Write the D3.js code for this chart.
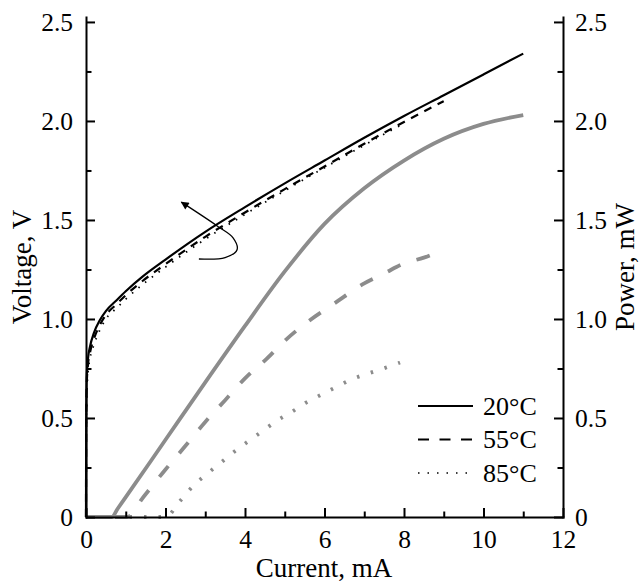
<!DOCTYPE html>
<html>
<head>
<meta charset="utf-8">
<script src="https://cdn.jsdelivr.net/npm/d3@7"></script>
<style>
    body { margin: 0; background: #fff; }
    svg { display: block; font-family: "Liberation Serif", "Times New Roman", serif; }
    .axis line, .axis path { stroke: #000; stroke-width: 2; }
    .title { font-size: 27px; fill: #000; }
    .legend text { font-size: 26px; fill: #000; }
</style>
</head>
<body>
<svg id="chart" width="639" height="583"></svg>
<script>
// Voltage (left axis), current in mA
const currentV20 = [0, 0.005, 0.02, 0.05, 0.1, 0.2, 0.35, 0.5, 0.77, 1.0, 1.43, 2, 3, 4, 5, 6, 7, 8, 9, 10, 11];
const voltage20 = [0, 0.5, 0.72, 0.8, 0.86, 0.93, 0.995, 1.04, 1.095, 1.14, 1.215, 1.3, 1.44, 1.565, 1.685, 1.8, 1.915, 2.025, 2.13, 2.235, 2.34];
const currentV55 = [0, 0.005, 0.02, 0.05, 0.1, 0.2, 0.35, 0.5, 0.77, 1.0, 1.43, 2, 3, 4, 5, 6, 7, 8, 9];
const voltage55 = [0, 0.45, 0.68, 0.77, 0.83, 0.9, 0.97, 1.02, 1.075, 1.12, 1.193, 1.277, 1.415, 1.538, 1.656, 1.77, 1.885, 1.995, 2.1];
const currentV85 = [0, 0.005, 0.02, 0.05, 0.1, 0.2, 0.35, 0.5, 0.77, 1.0, 1.43, 2, 3, 4, 5, 6, 7, 8];
const voltage85 = [0, 0.4, 0.62, 0.73, 0.8, 0.87, 0.945, 1.0, 1.055, 1.1, 1.175, 1.262, 1.403, 1.528, 1.648, 1.764, 1.878, 1.988];

// Optical power (right axis)
const currentP20 = [0, 0.65, 0.8, 1, 2, 3, 4, 5, 6, 7, 8, 9, 10, 11];
const power20 = [0, 0, 0.043, 0.1, 0.39, 0.68, 0.965, 1.24, 1.48, 1.66, 1.8, 1.91, 1.985, 2.03];
const currentP55 = [0, 1.03, 1.44, 2, 2.45, 3, 3.5, 4, 4.55, 5, 5.64, 6.26, 7, 7.5, 8, 8.5, 9];
const power55 = [0, 0, 0.1, 0.24, 0.347, 0.48, 0.59, 0.7, 0.8, 0.89, 0.995, 1.08, 1.18, 1.23, 1.28, 1.31, 1.35];
const currentP85 = [0, 2.0, 2.36, 2.7, 3.04, 3.39, 3.73, 4.1, 4.44, 4.8, 5.17, 5.53, 5.9, 6.31, 6.68, 7.1, 7.48, 7.9];
const power85 = [0, 0, 0.08, 0.158, 0.217, 0.274, 0.33, 0.385, 0.434, 0.486, 0.53, 0.577, 0.616, 0.658, 0.695, 0.725, 0.75, 0.78];

// Ticks
const xMajorTicks = [0, 2, 4, 6, 8, 10, 12];
const xMinorTicks = [1, 3, 5, 7, 9, 11];
const yMajorTicks = [0, 0.5, 1.0, 1.5, 2.0, 2.5];
const yMinorTicks = [0.25, 0.75, 1.25, 1.75, 2.25];

// Legend labels
const legendLabels = ["20°C", "55°C", "85°C"];

// Curved arrow pointing at voltage curves (data units)
const arrowCurrent = [2.84, 3.5, 3.8, 3.7, 3.3, 2.4];
const arrowVoltage = [1.303, 1.31, 1.35, 1.41, 1.47, 1.59];

const svg = d3.select("#chart");
const grey = "#8c8c8c";
const serif = '"Liberation Serif", "Times New Roman", serif';

// Scales (both y axes share 0..2.5)
const x = d3.scaleLinear().domain([0, 12]).range([86, 563]);
const y = d3.scaleLinear().domain([0, 2.525]).range([517, 17]);

function zip(xs, ys) {
    return xs.map(function (v, i) { return [v, ys[i]]; });
}

const line = d3.line()
    .x(function (d) { return x(d[0]); })
    .y(function (d) { return y(d[1]); })
    .curve(d3.curveMonotoneX);

// Power curves (grey)
const powerSeries = [
    { data: zip(currentP20, power20), dash: null },
    { data: zip(currentP55, power55), dash: "14,17" },
    { data: zip(currentP85, power85), dash: "2.5,12" }
];
powerSeries.forEach(function (s) {
    svg.append("path")
        .datum(s.data)
        .attr("d", line)
        .attr("fill", "none")
        .attr("stroke", grey)
        .attr("stroke-width", 3.8)
        .attr("stroke-dasharray", s.dash);
});

// Voltage curves (black)
const voltageSeries = [
    { data: zip(currentV20, voltage20), dash: null, w: 2.2 },
    { data: zip(currentV55, voltage55), dash: "8,7", w: 2.2 },
    { data: zip(currentV85, voltage85), dash: "1.5,7", w: 1.8 }
];
voltageSeries.forEach(function (s) {
    svg.append("path")
        .datum(s.data)
        .attr("d", line)
        .attr("fill", "none")
        .attr("stroke", "#000")
        .attr("stroke-width", s.w)
        .attr("stroke-dasharray", s.dash);
});

// Arrow annotation
svg.append("defs").append("marker")
    .attr("id", "head")
    .attr("viewBox", "0 0 10 10")
    .attr("refX", 9).attr("refY", 5)
    .attr("markerWidth", 11).attr("markerHeight", 8)
    .attr("markerUnits", "userSpaceOnUse")
    .attr("orient", "auto")
    .append("path")
    .attr("d", "M0,0 L10,5 L0,10 Z")
    .attr("fill", "#000");

svg.append("path")
    .datum(zip(arrowCurrent, arrowVoltage))
    .attr("d", d3.line().x(d => x(d[0])).y(d => y(d[1])).curve(d3.curveCatmullRom))
    .attr("fill", "none")
    .attr("stroke", "#000")
    .attr("stroke-width", 1.3)
    .attr("marker-end", "url(#head)");

// Axes
const yFormat = function (d) { return d === 0 ? "0" : d3.format(".1f")(d); };

function styleAxis(g) {
    g.attr("class", "axis");
    g.selectAll("text")
        .style("font-family", serif)
        .style("font-size", "25.5px")
        .style("fill", "#000");
}

svg.append("g")
    .attr("transform", "translate(0,517)")
    .call(d3.axisBottom(x).tickValues(xMajorTicks).tickSize(-9).tickSizeOuter(0).tickPadding(13))
    .call(styleAxis);
svg.append("g")
    .attr("transform", "translate(0,517)")
    .call(d3.axisBottom(x).tickValues(xMinorTicks).tickSize(-5.5).tickFormat(""))
    .call(styleAxis)
    .select(".domain").remove();

svg.append("g")
    .attr("transform", "translate(86,0)")
    .call(d3.axisLeft(y).tickValues(yMajorTicks).tickFormat(yFormat).tickSize(-9).tickSizeOuter(0).tickPadding(13))
    .call(styleAxis);
svg.append("g")
    .attr("transform", "translate(86,0)")
    .call(d3.axisLeft(y).tickValues(yMinorTicks).tickSize(-5.5).tickFormat(""))
    .call(styleAxis)
    .select(".domain").remove();

svg.append("g")
    .attr("transform", "translate(563,0)")
    .call(d3.axisRight(y).tickValues(yMajorTicks).tickFormat(yFormat).tickSize(-9).tickSizeOuter(0).tickPadding(12))
    .call(styleAxis);
svg.append("g")
    .attr("transform", "translate(563,0)")
    .call(d3.axisRight(y).tickValues(yMinorTicks).tickSize(-5.5).tickFormat(""))
    .call(styleAxis)
    .select(".domain").remove();

svg.selectAll(".axis .domain").attr("stroke-linecap", "square");

// Axis titles
svg.append("text")
    .attr("class", "title")
    .attr("x", 324).attr("y", 577)
    .attr("text-anchor", "middle")
    .text("Current, mA");
svg.append("text")
    .attr("class", "title")
    .attr("transform", "translate(31,267) rotate(-90)")
    .attr("text-anchor", "middle")
    .text("Voltage, V");
svg.append("text")
    .attr("class", "title")
    .attr("transform", "translate(634,267) rotate(-90)")
    .attr("text-anchor", "middle")
    .text("Power, mW");

// Legend
const legendDash = [null, "11,10.5", "1.5,8"];
const legend = svg.append("g").attr("class", "legend");
legendLabels.forEach(function (label, i) {
    const ly = 406 + i * 33.5;
    legend.append("line")
        .attr("x1", 418).attr("x2", 473)
        .attr("y1", ly).attr("y2", ly)
        .attr("stroke", "#000")
        .attr("stroke-width", i === 2 ? 1.5 : 2.2)
        .attr("stroke-dasharray", legendDash[i]);
    legend.append("text")
        .attr("x", 483).attr("y", ly)
        .attr("dy", "0.34em")
        .text(label);
});
</script>
</body>
</html>
